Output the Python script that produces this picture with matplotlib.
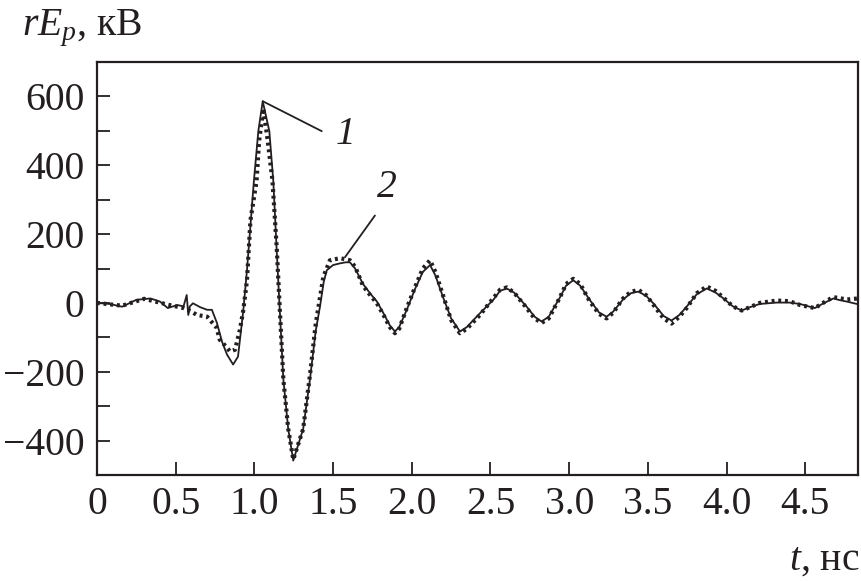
import matplotlib
matplotlib.use("Agg")
import matplotlib.pyplot as plt
from matplotlib.ticker import MultipleLocator

# curve 1 (solid) - time in ns, rE_p in kV
t1 = [0, 0.08, 0.16, 0.25, 0.34, 0.40, 0.45, 0.51, 0.55, 0.57, 0.58, 0.59,
      0.61, 0.654, 0.70, 0.73, 0.762, 0.794, 0.826, 0.865, 0.896, 0.93,
      0.953, 0.997, 1.025, 1.053, 1.095, 1.12, 1.142, 1.184, 1.215, 1.247,
      1.31, 1.353, 1.39, 1.417, 1.44, 1.46, 1.50, 1.544, 1.58, 1.607, 1.64,
      1.69, 1.74, 1.777, 1.82, 1.86, 1.893, 1.92, 1.968, 2.02, 2.07, 2.116,
      2.15, 2.2, 2.25, 2.306, 2.35, 2.433, 2.52, 2.56, 2.603, 2.65, 2.73,
      2.78, 2.825, 2.87, 2.94, 2.98, 3.026, 3.07, 3.13, 3.19, 3.238, 3.28,
      3.34, 3.39, 3.44, 3.49, 3.534, 3.60, 3.65, 3.70, 3.746, 3.81, 3.874,
      3.93, 3.98, 4.04, 4.096, 4.15, 4.21, 4.318, 4.40, 4.466, 4.56, 4.62,
      4.678, 4.72, 4.763, 4.837]
e1 = [0, -3, -11, 9, 13, 4, -15, -6, -10, 23, -35, -10,
      -1, -12, -20, -20, -58, -112, -150, -179, -156, -20,
      95, 355, 499, 586, 499, 355, 150, -222, -366, -458,
      -366, -222, -80, -10, 60, 95, 110, 115, 118, 118, 100,
      55, 25, 5, -30, -65, -83, -70, -20, 40, 90, 110,
      80, 15, -45, -83, -70, -30, 10, 35, 42, 30, -11,
      -40, -54, -40, 15, 50, 66, 50, 9, -28, -40, -25,
      9, 28, 33, 20, -1, -38, -51, -35, -11, 25, 42,
      30, 13, -10, -22, -12, -3, 1, 1, -3, -15, 0,
      13, 8, 4, -4]

# curve 2 (dotted)
t2 = [0, 0.16, 0.3, 0.45, 0.55, 0.6, 0.635, 0.70, 0.76, 0.78, 0.826, 0.845,
      0.877, 0.908, 0.93, 0.953, 0.975, 1.014, 1.03, 1.057, 1.085, 1.115,
      1.142, 1.184, 1.215, 1.247, 1.31, 1.353, 1.39, 1.438, 1.48, 1.544,
      1.607, 1.64, 1.69, 1.74, 1.777, 1.82, 1.86, 1.893, 1.92, 1.968, 2.02,
      2.07, 2.116, 2.15, 2.2, 2.25, 2.306, 2.35, 2.433, 2.52, 2.56, 2.603,
      2.65, 2.73, 2.78, 2.825, 2.87, 2.94, 2.98, 3.026, 3.07, 3.13, 3.19,
      3.238, 3.28, 3.34, 3.39, 3.44, 3.49, 3.534, 3.60, 3.65, 3.70, 3.746,
      3.81, 3.874, 3.93, 3.98, 4.04, 4.096, 4.15, 4.21, 4.318, 4.40, 4.466,
      4.56, 4.62, 4.678, 4.763, 4.837]
e2 = [0, -8, 12, -5, -15, -25, -35, -40, -72, -107, -130, -141,
      -136, -78, -20, 66, 240, 355, 470, 565, 470, 355,
      160, -222, -366, -455, -366, -210, -60, 76, 124, 130,
      124, 105, 50, 20, 0, -35, -70, -88, -75, -15, 45,
      100, 124, 90, 20, -50, -88, -75, -35, 15, 38, 45,
      30, -15, -45, -58, -45, 15, 55, 70, 55, 5, -32,
      -45, -28, 12, 32, 38, 22, -5, -45, -60, -40, -15,
      28, 48, 35, 15, -10, -22, -12, 0, 7, 5, -6,
      -15, 2, 17, 10, 13]

x_ticks = [0, 0.5, 1.0, 1.5, 2.0, 2.5, 3.0, 3.5, 4.0, 4.5]
x_labels = ["0", "0.5", "1.0", "1.5", "2.0", "2.5", "3.0", "3.5", "4.0", "4.5"]
y_ticks = [-400, -200, 0, 200, 400, 600]
y_labels = ["\u2212400", "\u2212200", "0", "200", "400", "600"]

# leader lines for curve numbers: (point on curve, free end, label position)
leader_1 = ((1.053, 586), (1.428, 499), (1.582, 488))
leader_2 = ((1.576, 133), (1.766, 254), (1.842, 335))


def main():
    plt.rcParams['font.family'] = ['Liberation Serif', 'DejaVu Serif']
    plt.rcParams['mathtext.fontset'] = 'custom'
    plt.rcParams['mathtext.rm'] = 'Liberation Serif'
    plt.rcParams['mathtext.it'] = 'Liberation Serif:italic'

    ink = '#231f20'
    fs = 28.5

    fig = plt.figure(figsize=(8.62, 5.81), dpi=100)
    ax = fig.add_axes([0.1125, 0.1824, 0.8829, 0.7109])

    ax.plot(t1, e1, color=ink, lw=1.3)
    ax.plot(t2, e2, color=ink, lw=3.0, linestyle=(0, (0.7, 0.9)))

    ax.set_xlim(0, 4.835)
    ax.set_ylim(-500, 700)
    ax.set_xticks(x_ticks)
    ax.set_xticklabels(x_labels)
    ax.set_yticks(y_ticks)
    ax.set_yticklabels(y_labels)
    ax.yaxis.set_minor_locator(MultipleLocator(100))

    ax.tick_params(axis='both', which='both', direction='in', length=9.5,
                   width=1.3, labelsize=fs, color=ink, labelcolor=ink)
    ax.tick_params(axis='x', pad=8)
    ax.tick_params(axis='y', pad=9)
    for sp in ax.spines.values():
        sp.set_linewidth(1.6)
        sp.set_color(ink)

    for (p, q, lab), name in zip([leader_1, leader_2], ['1', '2']):
        ax.annotate('', xy=p, xytext=q,
                    arrowprops=dict(arrowstyle='-', color=ink, lw=1.3,
                                    shrinkA=0, shrinkB=0))
        ax.text(lab[0], lab[1], name, fontsize=fs, style='italic',
                ha='center', va='center', color=ink)

    fig.text(22 / 862, 1 - 35 / 581, r'$rE_p$, кВ', fontsize=fs,
             va='baseline', ha='left', color=ink)
    fig.text(859 / 862, 1 - 570 / 581, r'$t$, нс', fontsize=fs,
             va='baseline', ha='right', color=ink)

    fig.savefig('out.png', dpi=100)


if __name__ == "__main__":
    main()
